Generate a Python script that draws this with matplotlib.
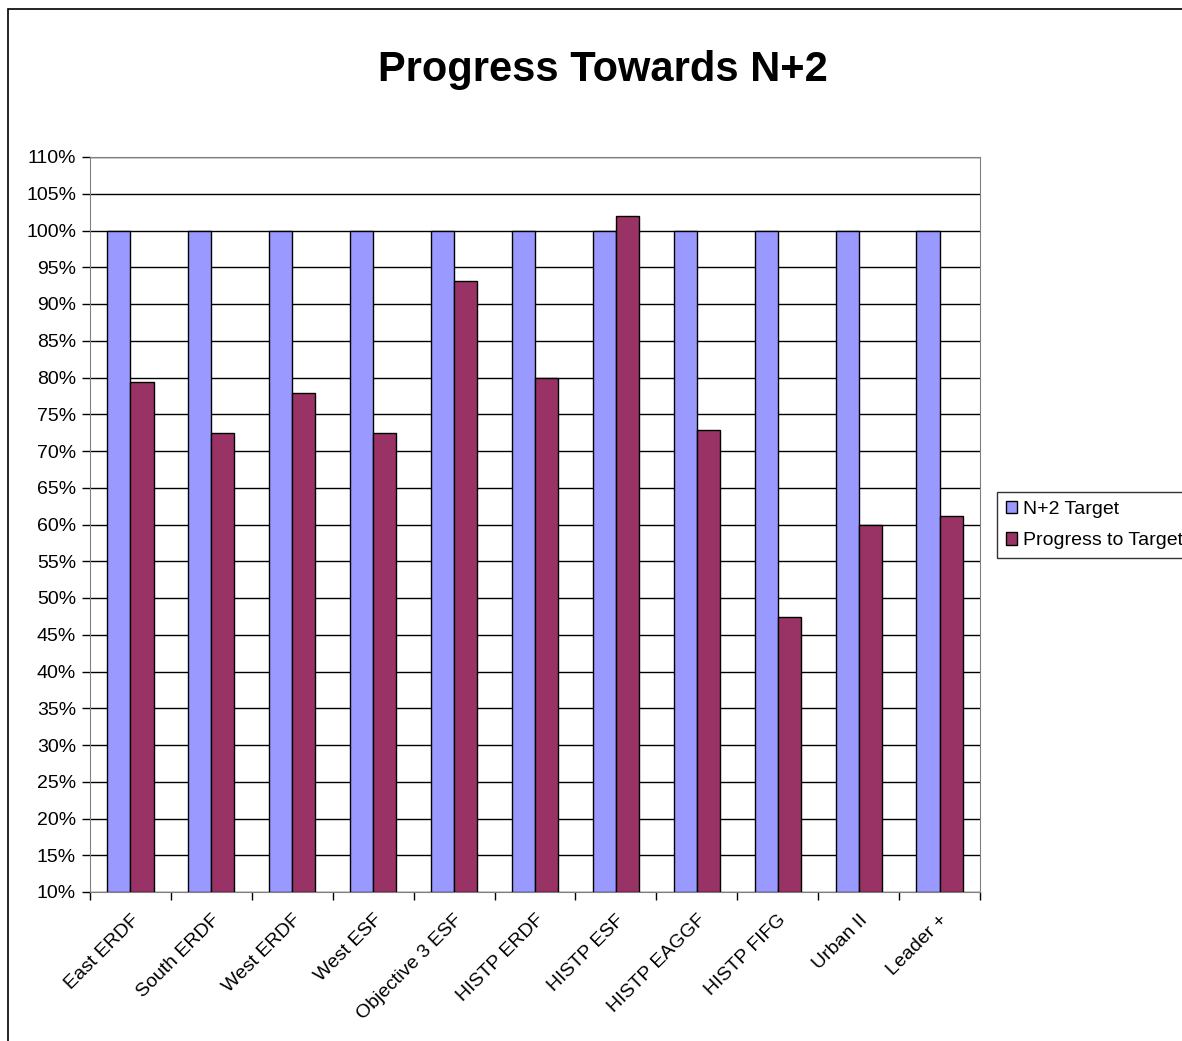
"""
Progress Towards N+2 — grouped bar chart
"""
import numpy as np
import matplotlib
matplotlib.use('Agg')
import matplotlib.pyplot as plt
import matplotlib.ticker as ticker
from matplotlib.patches import Rectangle

plt.rcParams['font.family'] = ['Liberation Sans', 'DejaVu Sans']

# data
categories = ["East ERDF", "South ERDF", "West ERDF", "West ESF", "Objective 3 ESF",
              "HISTP ERDF", "HISTP ESF", "HISTP EAGGF", "HISTP FIFG", "Urban II", "Leader +"]
target = [100, 100, 100, 100, 100, 100, 100, 100, 100, 100, 100]
progress = [79.4, 72.4, 77.9, 72.4, 93.1, 79.9, 102.0, 72.8, 47.4, 60.0, 61.2]
series_names = ["N+2 Target", "Progress to Target"]

COLORS = {"target": "#9999FF", "progress": "#993366"}

W, H = 1182, 1041
fig = plt.figure(figsize=(W / 100, H / 100), dpi=100)
ax = fig.add_axes([90 / W, 1 - 892 / H, (980 - 90) / W, (892 - 157) / H])

# chart border (outer frame)
fig.patches.append(Rectangle((8 / W, -0.01), 1.2, 1 - 9 / H + 0.01, transform=fig.transFigure,
                             fill=False, edgecolor='black', linewidth=1.2))

x = np.arange(len(categories))
bw = 0.285
base = 10
ax.bar(x, np.array(target) - base, bottom=base, width=-bw, align='edge',
       color=COLORS["target"], edgecolor='black', linewidth=1.0, label=series_names[0], zorder=3)
ax.bar(x, np.array(progress) - base, bottom=base, width=bw, align='edge',
       color=COLORS["progress"], edgecolor='black', linewidth=1.0, label=series_names[1], zorder=3)

ax.set_xlim(-0.5, len(categories) - 0.5)
ax.set_ylim(10, 110)
ax.yaxis.set_major_locator(ticker.MultipleLocator(5))
ax.yaxis.set_major_formatter(ticker.FuncFormatter(lambda v, p: f"{v:.0f}%"))
ax.grid(True, axis='y', color='black', linewidth=1.0, zorder=0)

# x ticks at group boundaries, labels at group centres
ax.set_xticks(np.arange(-0.5, len(categories) + 0.5, 1.0))
ax.xaxis.set_major_formatter(ticker.NullFormatter())
ax.set_xticks(x, minor=True)
ax.set_xticklabels(categories, minor=True, rotation=45, ha='right', rotation_mode='anchor',
                   fontsize=14)
ax.tick_params(axis='x', which='minor', length=0, pad=14)
ax.tick_params(axis='x', which='major', length=6, width=1, color='black', direction='out')
ax.tick_params(axis='y', length=6, width=1, direction='out', labelsize=14, pad=4)

for side in ['top', 'right', 'left', 'bottom']:
    ax.spines[side].set_color('#808080')

fig.text(603 / W, 1 - 70 / H, "Progress Towards N+2", ha='center', va='center',
         fontsize=30, fontweight='bold')

leg = fig.legend(loc='upper left', bbox_to_anchor=(997 / W, 1 - 492 / H), fontsize=14,
                 frameon=True, fancybox=False, edgecolor='black', handlelength=0.6,
                 handleheight=0.6, handletextpad=0.3, borderpad=0.45, labelspacing=0.75,
                 borderaxespad=0)
leg.get_frame().set_linewidth(1.0)

fig.savefig("out.png", dpi=100)
plt.close(fig)
